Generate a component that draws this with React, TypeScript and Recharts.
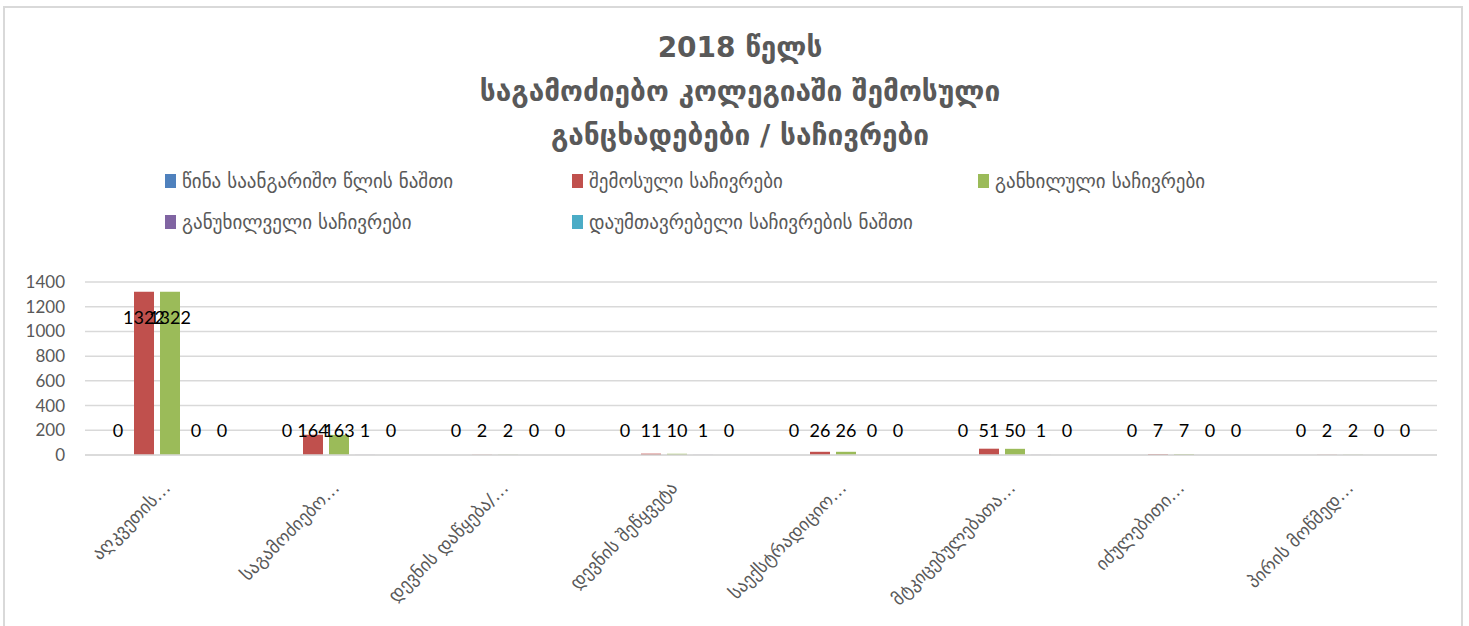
import React from "react";
import { BarChart, Bar, XAxis, YAxis, CartesianGrid, LabelList } from "recharts";

const categories = [
  "აღკვეთის…",
  "საგამოძიებო…",
  "დევნის დაწყება/…",
  "დევნის შეწყვეტა",
  "საექსტრადიციო…",
  "მტკიცებულებათა…",
  "იძულებითი…",
  "პირის მოწმედ…",
];

const remainderPrev = [0, 0, 0, 0, 0, 0, 0, 0];
const received = [1322, 164, 2, 11, 26, 51, 7, 2];
const reviewed = [1322, 163, 2, 10, 26, 50, 7, 2];
const notReviewed = [0, 1, 0, 1, 0, 1, 0, 0];
const unfinished = [0, 0, 0, 0, 0, 0, 0, 0];

const yTicks = [0, 200, 400, 600, 800, 1000, 1200, 1400];

const titleLines = [
  "2018 წელს",
  "საგამოძიებო კოლეგიაში შემოსული",
  "განცხადებები / საჩივრები",
];

const SERIES = [
  { key: "s0", name: "წინა საანგარიშო წლის ნაშთი", color: "#4f81bd", values: remainderPrev },
  { key: "s1", name: "შემოსული საჩივრები", color: "#c0504d", values: received },
  { key: "s2", name: "განხილული საჩივრები", color: "#9bbb59", values: reviewed },
  { key: "s3", name: "განუხილველი საჩივრები", color: "#8064a2", values: notReviewed },
  { key: "s4", name: "დაუმთავრებელი საჩივრების ნაშთი", color: "#4bacc6", values: unfinished },
];

const data = categories.map((name, i) => {
  const row: Record<string, string | number> = { name };
  for (const s of SERIES) row[s.key] = s.values[i];
  return row;
});

const GRAY = "#595959";
const GEO_FONT = "'DejaVu Sans', 'Noto Sans', sans-serif";
const NUM_FONT = "Lato, 'Liberation Sans', sans-serif";

// Excel puts the label inside the bar end, but pushes it up when the bar is too short.
const ValueLabel = (props: any) => {
  const { x, y, width, height, value } = props;
  const base = y + height;
  const cy = Math.min(y + 25, base - 25);
  return (
    <text
      x={x + width / 2}
      y={cy}
      textAnchor="middle"
      dominantBaseline="central"
      fill="#000"
      fontSize={18}
      fontFamily={NUM_FONT}
    >
      {String(value)}
    </text>
  );
};

const CategoryTick = (props: any) => {
  const { x, y, payload } = props;
  return (
    <g transform={`translate(${x + 2},${y + 26})`}>
      <text
        transform="rotate(-45)"
        textAnchor="end"
        fill={GRAY}
        fontSize={18}
        fontFamily={GEO_FONT}
      >
        {payload.value}
      </text>
    </g>
  );
};

const legendPos = [
  { left: 165, top: 170 },
  { left: 572, top: 170 },
  { left: 978, top: 170 },
  { left: 165, top: 211 },
  { left: 572, top: 211 },
];

export default function App() {
  return (
    <div style={{ position: "relative", width: 1469, height: 626, background: "#fff", overflow: "hidden" }}>
      <style>{`body{margin:0}`}</style>
      <div
        style={{
          position: "absolute",
          left: 3,
          top: 6,
          width: 1460,
          height: 640,
          border: "2px solid #d9d9d9",
          boxSizing: "border-box",
        }}
      />
      <div
        style={{
          position: "absolute",
          left: 0,
          top: 26,
          width: 1480,
          textAlign: "center",
          color: GRAY,
          fontFamily: GEO_FONT,
          fontWeight: "bold",
          fontSize: 28,
          lineHeight: "44px",
        }}
      >
        {titleLines.map((t) => (
          <div key={t}>{t}</div>
        ))}
      </div>
      {SERIES.map((s, i) => (
        <div
          key={s.key}
          style={{
            position: "absolute",
            left: legendPos[i].left,
            top: legendPos[i].top,
            display: "flex",
            alignItems: "center",
            color: GRAY,
            fontFamily: GEO_FONT,
            fontSize: 19,
            whiteSpace: "nowrap",
          }}
        >
          <span style={{ display: "inline-block", width: 11, height: 14, background: s.color, marginRight: 6 }} />
          {s.name}
        </div>
      ))}
      <div style={{ position: "absolute", left: 0, top: 0 }}>
        <BarChart
          width={1469}
          height={626}
          data={data}
          margin={{ top: 282, right: 32, left: 0, bottom: 0 }}
          barSize={20}
          barGap={6}
        >
          <CartesianGrid vertical={false} stroke="#d9d9d9" strokeWidth={1.5} />
          <XAxis
            dataKey="name"
            height={171}
            interval={0}
            tick={<CategoryTick />}
            tickLine={false}
            axisLine={{ stroke: "#d9d9d9", strokeWidth: 1.5 }}
          />
          <YAxis
            width={85}
            domain={[0, 1400]}
            ticks={yTicks}
            interval={0}
            tickLine={false}
            axisLine={false}
            tick={{ fill: GRAY, fontSize: 17, fontFamily: NUM_FONT }}
            tickMargin={14}
          />
          {SERIES.map((s) => (
            <Bar
              key={s.key}
              dataKey={s.key}
              name={s.name}
              fill={s.color}
              minPointSize={0.01}
              isAnimationActive={false}
            >
              <LabelList dataKey={s.key} content={<ValueLabel />} />
            </Bar>
          ))}
        </BarChart>
      </div>
    </div>
  );
}
